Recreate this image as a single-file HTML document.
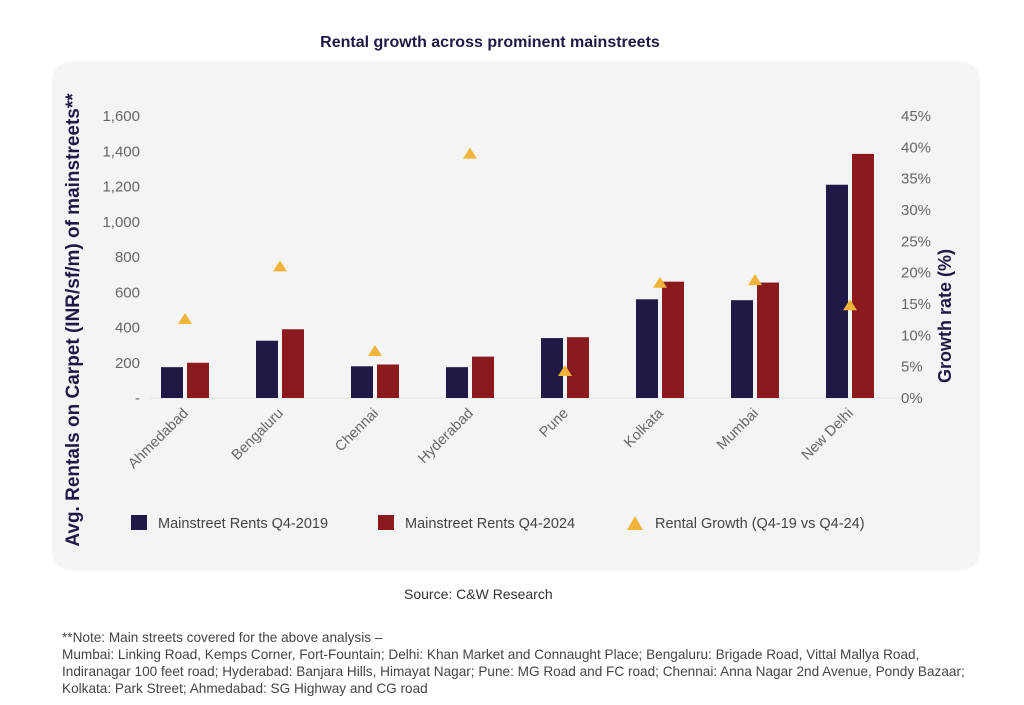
<!DOCTYPE html>
<html><head><meta charset="utf-8"><style>
body{margin:0;width:1024px;height:705px;background:#fff;font-family:"Liberation Sans",sans-serif;overflow:hidden;position:relative}
.t{position:absolute;white-space:nowrap}
</style></head><body>
<div class="t" style="left:0;width:980px;top:34px;text-align:center;font-weight:bold;font-size:16px;color:#1e1a45">Rental growth across prominent mainstreets</div>
<div style="position:absolute;left:52px;top:62px;width:928px;height:508px;background:#f4f4f5;border-radius:18px"></div>
<svg id="c" width="1024" height="705" style="position:absolute;left:0;top:0" font-family="Liberation Sans, sans-serif"></svg>
<div class="t" style="left:404px;top:586px;font-size:14px;color:#333">Source: C&amp;W Research</div>
<div class="t" style="left:62px;top:629px;font-size:13.6px;line-height:17px;color:#444;white-space:normal;width:922px">**Note: Main streets covered for the above analysis –<br>Mumbai: Linking Road, Kemps Corner, Fort-Fountain; Delhi: Khan Market and Connaught Place; Bengaluru: Brigade Road, Vittal Mallya Road, Indiranagar 100 feet road; Hyderabad: Banjara Hills, Himayat Nagar; Pune: MG Road and FC road; Chennai: Anna Nagar 2nd Avenue, Pondy Bazaar; Kolkata: Park Street; Ahmedabad: SG Highway and CG road</div>
<script>
const categories=["Ahmedabad","Bengaluru","Chennai","Hyderabad","Pune","Kolkata","Mumbai","New Delhi"];
const rents2019=[175,325,180,175,340,560,555,1210];
const rents2024=[200,390,190,235,345,660,655,1385];
const growth=[12.6,21,7.5,39,4.3,18.4,18.8,14.8];
const leftTicks=[0,200,400,600,800,1000,1200,1400,1600];
const leftTickLabels=["-","200","400","600","800","1,000","1,200","1,400","1,600"];
const rightTicks=[0,5,10,15,20,25,30,35,40,45];
const NS="http://www.w3.org/2000/svg",svg=document.getElementById('c');
const y0=398,y1=116;
const yL=v=>y0-(v/1600)*(y0-y1);
const yR=v=>y0-(v/45)*(y0-y1);
const xC=i=>185+i*95;
function mk(t,a){const e=document.createElementNS(NS,t);for(const k in a)e.setAttribute(k,a[k]);svg.appendChild(e);return e;}
let e;
e=mk('line',{x1:150,x2:900,y1:y0,y2:y0,stroke:'#e2e2e4','stroke-width':1});


leftTicks.forEach((v,i)=>{e=mk('text',{x:140,y:yL(v)+5,'text-anchor':'end','font-size':15,fill:'#666'});e.textContent=leftTickLabels[i];

});
rightTicks.forEach(v=>{e=mk('text',{x:901,y:yR(v)+5,'font-size':15,fill:'#666'});e.textContent=v+'%';

});
categories.forEach((c,i)=>{
 const x=xC(i);
 e=mk('rect',{x:x-24,y:yL(rents2019[i]),width:22,height:y0-yL(rents2019[i]),fill:'#1e1a45'});
 
 
 e=mk('rect',{x:x+2,y:yL(rents2024[i]),width:22,height:y0-yL(rents2024[i]),fill:'#8b1a1f'});
 
 
 const ty=yR(growth[i]);
 e=mk('polygon',{points:`${x-7},${ty+5} ${x+7},${ty+5} ${x},${ty-6}`,fill:'#f0b43c'});
 
 
 e=mk('text',{x:x+4,y:414,'text-anchor':'end','font-size':14.5,fill:'#666',transform:`rotate(-45 ${x+4} 414)`});e.textContent=c;
 
 
});
e=mk('text',{x:0,y:0,'font-size':19,'font-weight':'bold',fill:'#1e1a45','text-anchor':'middle',transform:'translate(79 320) rotate(-90)'});e.textContent='Avg. Rentals on Carpet (INR/sf/m) of mainstreets**';


e=mk('text',{x:0,y:0,'font-size':18,'font-weight':'bold',fill:'#1e1a45','text-anchor':'middle',transform:'translate(951 316) rotate(-90)'});e.textContent='Growth rate (%)';


e=mk('rect',{x:131,y:515,width:16,height:15,fill:'#1e1a45'});


e=mk('text',{x:158,y:528,'font-size':14.5,fill:'#444'});e.textContent='Mainstreet Rents Q4-2019';


e=mk('rect',{x:378,y:515,width:16,height:15,fill:'#8b1a1f'});


e=mk('text',{x:405,y:528,'font-size':14.5,fill:'#444'});e.textContent='Mainstreet Rents Q4-2024';


e=mk('polygon',{points:'627,530 643,530 635,516',fill:'#f0b43c'});


e=mk('text',{x:655,y:528,'font-size':14.5,fill:'#444'});e.textContent='Rental Growth (Q4-19 vs Q4-24)';


</script>
</body></html>
